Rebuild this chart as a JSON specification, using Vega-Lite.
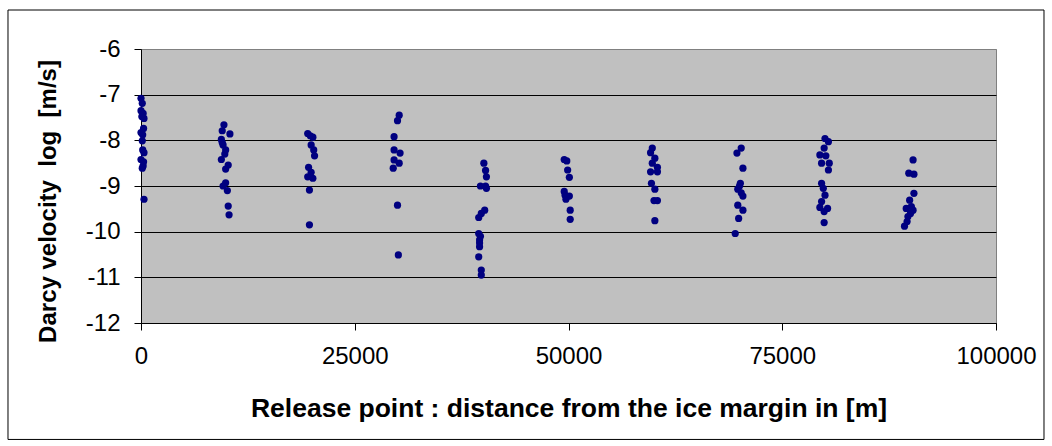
{
  "$schema": "https://vega.github.io/schema/vega-lite/v6.json",
  "width": 855,
  "height": 274,
  "autosize": "none",
  "padding": {"left": 141, "top": 49, "right": 56, "bottom": 123},
  "background": "white",
  "config": {
    "font": "Liberation Sans",
    "view": {"fill": "#C0C0C0", "stroke": "#808080", "strokeWidth": 1}
  },
  "datasets": {
    "frame": [{"x1": -15556, "x2": 105614, "y1": -5.146, "y2": -14.55}],
    "points": [
      {"d": 0, "v": -7.08}, {"d": 150, "v": -7.19}, {"d": 0, "v": -7.35}, {"d": 250, "v": -7.41},
      {"d": 100, "v": -7.48}, {"d": 350, "v": -7.52}, {"d": 300, "v": -7.74}, {"d": 0, "v": -7.83},
      {"d": 200, "v": -7.88}, {"d": 150, "v": -8.01}, {"d": 200, "v": -8.21}, {"d": 350, "v": -8.27},
      {"d": 0, "v": -8.42}, {"d": 300, "v": -8.47}, {"d": 250, "v": -8.56}, {"d": 150, "v": -8.61},
      {"d": 350, "v": -9.29},

      {"d": 9700, "v": -7.66}, {"d": 9500, "v": -7.79}, {"d": 10400, "v": -7.86}, {"d": 9400, "v": -7.98},
      {"d": 9600, "v": -8.10}, {"d": 9900, "v": -8.21}, {"d": 9400, "v": -8.42}, {"d": 10200, "v": -8.54},
      {"d": 9900, "v": -8.63}, {"d": 9900, "v": -8.93}, {"d": 9600, "v": -9.00}, {"d": 10100, "v": -9.10},
      {"d": 10200, "v": -9.44}, {"d": 10300, "v": -9.63}, {"d": 9800, "v": -8.30}, {"d": 9500, "v": -8.05},

      {"d": 19500, "v": -7.85}, {"d": 20100, "v": -7.93}, {"d": 19900, "v": -8.10}, {"d": 20200, "v": -8.21},
      {"d": 20300, "v": -8.34}, {"d": 19600, "v": -8.59}, {"d": 19500, "v": -8.80}, {"d": 20100, "v": -8.83},
      {"d": 19700, "v": -9.09}, {"d": 19700, "v": -9.85}, {"d": 19800, "v": -7.90}, {"d": 19900, "v": -8.70},

      {"d": 30200, "v": -7.45}, {"d": 30000, "v": -7.57}, {"d": 29600, "v": -7.92}, {"d": 29600, "v": -8.21},
      {"d": 30300, "v": -8.28}, {"d": 29600, "v": -8.43}, {"d": 30200, "v": -8.50}, {"d": 29500, "v": -8.61},
      {"d": 30000, "v": -9.42}, {"d": 30100, "v": -10.51},

      {"d": 40100, "v": -8.50}, {"d": 40300, "v": -8.66}, {"d": 40400, "v": -8.80}, {"d": 39700, "v": -9.00},
      {"d": 40400, "v": -9.05}, {"d": 40200, "v": -9.53}, {"d": 39500, "v": -9.69}, {"d": 39500, "v": -10.04},
      {"d": 39600, "v": -10.18}, {"d": 39600, "v": -10.33}, {"d": 39500, "v": -10.55}, {"d": 39800, "v": -10.84},
      {"d": 39800, "v": -10.95}, {"d": 39700, "v": -10.10}, {"d": 39600, "v": -10.25}, {"d": 40300, "v": -9.00},
      {"d": 39800, "v": -9.60},

      {"d": 49500, "v": -8.42}, {"d": 49800, "v": -8.45}, {"d": 49900, "v": -8.65}, {"d": 50100, "v": -8.81},
      {"d": 49500, "v": -9.12}, {"d": 50100, "v": -9.22}, {"d": 49700, "v": -9.29}, {"d": 50200, "v": -9.53},
      {"d": 50200, "v": -9.73}, {"d": 49600, "v": -9.20},

      {"d": 59800, "v": -8.17}, {"d": 59600, "v": -8.27}, {"d": 60100, "v": -8.39}, {"d": 59800, "v": -8.50},
      {"d": 60400, "v": -8.59}, {"d": 59600, "v": -8.69}, {"d": 60400, "v": -8.69}, {"d": 59700, "v": -8.94},
      {"d": 60100, "v": -9.07}, {"d": 60000, "v": -9.32}, {"d": 60400, "v": -9.32}, {"d": 60100, "v": -9.76},

      {"d": 70200, "v": -8.17}, {"d": 69700, "v": -8.28}, {"d": 70400, "v": -8.61}, {"d": 70100, "v": -8.94},
      {"d": 69800, "v": -9.07}, {"d": 70400, "v": -9.22}, {"d": 69800, "v": -9.42}, {"d": 70400, "v": -9.53},
      {"d": 69900, "v": -9.71}, {"d": 69500, "v": -10.04}, {"d": 70000, "v": -9.00}, {"d": 70200, "v": -9.15},

      {"d": 80000, "v": -7.96}, {"d": 80400, "v": -8.03}, {"d": 79900, "v": -8.17}, {"d": 79400, "v": -8.32},
      {"d": 80100, "v": -8.34}, {"d": 79600, "v": -8.50}, {"d": 80500, "v": -8.50}, {"d": 80400, "v": -8.65},
      {"d": 79600, "v": -8.94}, {"d": 80000, "v": -9.20}, {"d": 79600, "v": -9.34}, {"d": 79400, "v": -9.47},
      {"d": 80300, "v": -9.49}, {"d": 79900, "v": -9.56}, {"d": 79900, "v": -9.80}, {"d": 79800, "v": -9.05},

      {"d": 90300, "v": -8.43}, {"d": 89800, "v": -8.72}, {"d": 90400, "v": -8.74}, {"d": 90400, "v": -9.16},
      {"d": 89900, "v": -9.31}, {"d": 90100, "v": -9.45}, {"d": 89500, "v": -9.49}, {"d": 90300, "v": -9.53},
      {"d": 89700, "v": -9.67}, {"d": 89600, "v": -9.78}, {"d": 89300, "v": -9.88}, {"d": 90000, "v": -9.60}
    ]
  },
  "layer": [
    {
      "data": {"name": "frame"},
      "mark": {"type": "rect", "fill": null, "stroke": "black", "strokeWidth": 1, "clip": false},
      "encoding": {
        "x": {"field": "x1", "type": "quantitative"},
        "x2": {"field": "x2"},
        "y": {"field": "y1", "type": "quantitative"},
        "y2": {"field": "y2"}
      }
    },
    {
      "data": {"name": "points"},
      "mark": {"type": "circle", "color": "#000080", "opacity": 1, "size": 52},
      "encoding": {
        "x": {
          "field": "d",
          "type": "quantitative",
          "scale": {"domain": [0, 100000], "nice": false, "zero": false},
          "axis": {
            "values": [0, 25000, 50000, 75000, 100000],
            "format": "d",
            "labelFlush": false,
            "grid": false,
            "domainColor": "black",
            "tickColor": "black",
            "tickSize": 7,
            "labelFontSize": 24,
            "labelColor": "black",
            "labelPadding": 14,
            "title": "Release point : distance from the ice margin in [m]",
            "titleFontSize": 26.5,
            "titleFontWeight": "bold",
            "titleColor": "black",
            "titlePadding": 27
          }
        },
        "y": {
          "field": "v",
          "type": "quantitative",
          "scale": {"domain": [-12, -6], "nice": false, "zero": false},
          "axis": {
            "values": [-12, -11, -10, -9, -8, -7, -6],
            "labelExpr": "'' + datum.value",
            "labelFlush": false,
            "grid": true,
            "gridColor": {"condition": {"test": "datum.value == -6", "value": "#808080"}, "value": "black"},
            "gridWidth": 1,
            "domainColor": "black",
            "tickColor": "black",
            "tickSize": 7,
            "labelFontSize": 24,
            "labelColor": "black",
            "labelPadding": 14,
            "title": "Darcy velocity\u00a0 log\u00a0 [m/s]",
            "titleFontSize": 24,
            "titleFontWeight": "bold",
            "titleColor": "black",
            "titlePadding": 25,
            "titleY": 152
          }
        }
      }
    }
  ]
}
